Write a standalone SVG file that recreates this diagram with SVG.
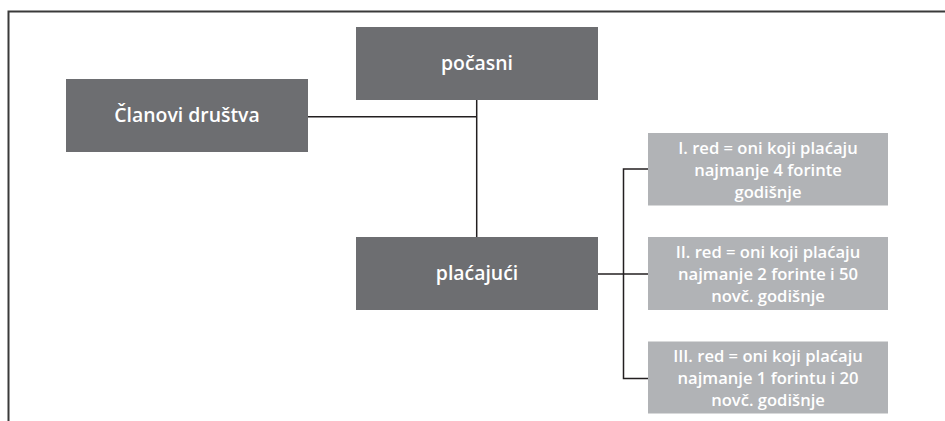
<svg xmlns="http://www.w3.org/2000/svg" width="945" height="421" viewBox="0 0 945 421">
<style>
.dark{fill:#6d6e71}
.light{fill:#b1b3b6}
.t{font-family:"Open Sans","Noto Sans",sans-serif;font-weight:600;fill:#ffffff;text-anchor:middle}
.big{font-size:19.4px}
.small{font-size:16.6px}
.ln{stroke:#231f20;stroke-width:1.5;fill:none}
</style>
<rect x="0" y="0" width="945" height="421" fill="#ffffff"/>
<path d="M8.5 421 V11.5 H945" stroke="#3a3a3a" stroke-width="2" fill="none"/>
<g id="connectors">
<path class="ln" d="M308 116.7 H476.7"/>
<path class="ln" d="M476.7 100 V237"/>
<path class="ln" d="M598 274 H648"/>
<path class="ln" d="M648 169 H623.5 V378.5 H648"/>
</g>
<g id="pocasni">
<rect class="dark" x="356" y="27" width="242" height="73"/>
<text class="t big" x="477" y="70">počasni</text>
</g>
<g id="clanovi">
<rect class="dark" x="66" y="79" width="242" height="73"/>
<text class="t big" x="187" y="122">Članovi društva</text>
</g>
<g id="placajuci">
<rect class="dark" x="356" y="237" width="242" height="73"/>
<text class="t big" x="477" y="280">plaćajući</text>
</g>
<g id="red1">
<rect class="light" x="648" y="133" width="240" height="72.5"/>
<text class="t small"><tspan x="768" y="153.5">I. red = oni koji plaćaju</tspan><tspan x="768" y="175.5">najmanje 4 forinte</tspan><tspan x="768" y="197.5">godišnje</tspan></text>
</g>
<g id="red2">
<rect class="light" x="648" y="237" width="240" height="73"/>
<text class="t small"><tspan x="768" y="257.5">II. red = oni koji plaćaju</tspan><tspan x="768" y="279.5">najmanje 2 forinte i 50</tspan><tspan x="768" y="301.5">novč. godišnje</tspan></text>
</g>
<g id="red3">
<rect class="light" x="648" y="341.5" width="240" height="72"/>
<text class="t small"><tspan x="768" y="361.5">III. red = oni koji plaćaju</tspan><tspan x="768" y="383.5">najmanje 1 forintu i 20</tspan><tspan x="768" y="405.5">novč. godišnje</tspan></text>
</g>
</svg>
